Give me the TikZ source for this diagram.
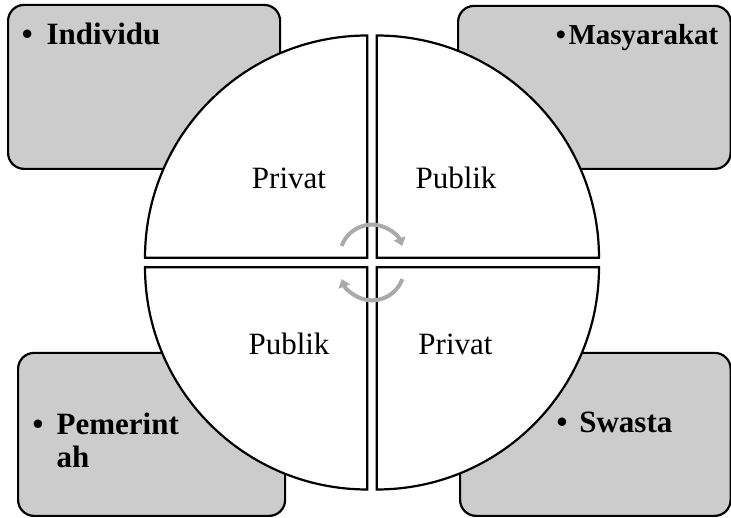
\documentclass[tikz,border=0pt]{standalone}
\usepackage{fontspec}
\setmainfont{Liberation Serif}
\usetikzlibrary{arrows.meta}
\definecolor{boxgray}{RGB}{204,204,204}
\definecolor{arrowgray}{RGB}{170,170,170}
\begin{document}
\begin{tikzpicture}[x=1pt,y=1pt,
  sidebox/.style={draw=black, line width=2.2pt, fill=boxgray, rounded corners=16pt, inner sep=0pt, anchor=south west},
  quad/.style={draw=black, line width=2.2pt, fill=white, line join=miter},
  qtext/.style={inner sep=0pt, anchor=base, font=\fontsize{31}{33}\selectfont},
  btext/.style={inner sep=0pt, anchor=base west, font=\fontsize{31}{33}\selectfont\bfseries},
  cyc/.style={draw=arrowgray, line width=4pt, -{Triangle[length=8pt,width=12pt]}}]
\useasboundingbox (0,0) rectangle (731,518);
% side boxes
\node[sidebox, minimum width=272pt, minimum height=164pt] (boxTL) at (7,348) {};
\node[sidebox, minimum width=272.5pt, minimum height=163pt] (boxTR) at (457,348) {};
\node[sidebox, minimum width=267pt, minimum height=163pt] (boxBL) at (17,1) {};
\node[sidebox, minimum width=270.5pt, minimum height=163pt] (boxBR) at (459,1) {};
% box labels
\node[btext] (lTL) at (21.6,473) {•\hspace{14pt}Individu};
\node[btext, font=\fontsize{29}{31}\selectfont\bfseries] (lTR) at (555.7,473) {•\hspace{2.5pt}Masyarakat};
\node[btext] (lBL) at (32.3,83) {•\hspace{13.3pt}\begin{tabular}[t]{@{}l@{}}Pemerint\\ah\end{tabular}};
\node[btext] (lBR) at (556.3,85) {•\hspace{12pt}Swasta};
% quadrants
\draw[quad] (367.3,260.2) -- (145,260.2) arc[start angle=180,end angle=90,radius=222.3] -- cycle;
\draw[quad] (376.7,260.2) -- (376.7,482.5) arc[start angle=90,end angle=0,radius=222.3] -- cycle;
\draw[quad] (376.7,250.8) -- (599,250.8) arc[start angle=0,end angle=-90,radius=222.3] -- cycle;
\draw[quad] (367.3,250.8) -- (367.3,28.5) arc[start angle=-90,end angle=-180,radius=222.3] -- cycle;
% quadrant texts
\node[qtext] (q1) at (289,329.7) {Privat};
\node[qtext] (q2) at (456,329.7) {Publik};
\node[qtext] (q3) at (289,163) {Publik};
\node[qtext] (q4) at (455.5,163) {Privat};
% cycle arrows
\coordinate (ca) at (372,261);
\coordinate (cb) at (372,250);
\draw[cyc] ([shift={(160:32.3)}]ca) arc[start angle=160,end angle=20,radius=32.3];
\draw[cyc] ([shift={(-20:32.3)}]cb) arc[start angle=-20,end angle=-160,radius=32.3];
\end{tikzpicture}
\end{document}
